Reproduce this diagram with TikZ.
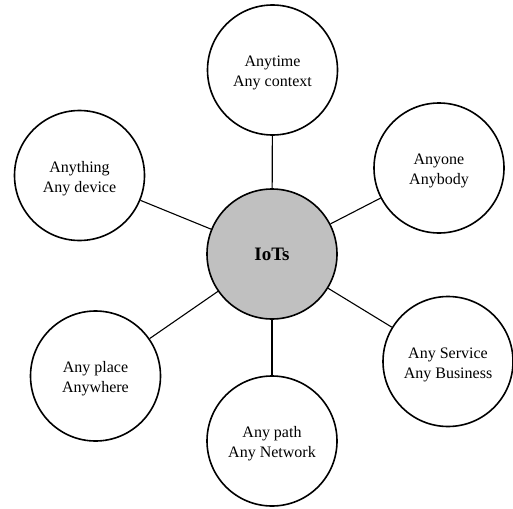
\documentclass[tikz,border=0pt]{standalone}
\usepackage{fontspec}
\setmainfont{Liberation Serif}
\begin{document}
\begin{tikzpicture}[x=1pt,y=-1pt,
  outer/.style={circle,draw,line width=1.6pt,minimum size=130pt,inner sep=0pt},
  txt/.style={align=center,inner sep=0pt,yshift=-3pt,font=\fontsize{16}{20}\selectfont},
  hub/.style={circle,draw,line width=1.6pt,fill={rgb,255:red,192;green,192;blue,192},minimum size=130pt,inner sep=0pt,font=\fontsize{19}{22}\selectfont\bfseries},
  link/.style={line width=1.1pt}]
\useasboundingbox (0,0) rectangle (513,508);
\node[hub] (c) at (272,254) {IoTs};
\node[outer] (t) at (272.5,70) {};
\node[outer] (tl) at (79.5,175.5) {};
\node[outer] (tr) at (439,168) {};
\node[outer] (bl) at (95.5,376) {};
\node[outer] (b) at (272,441) {};
\node[outer] (br) at (448,361.5) {};
\node[txt] (tT) at (t.center) {Anytime\\Any context};
\node[txt] (tlT) at (tl.center) {Anything\\Any device};
\node[txt] (trT) at (tr.center) {Anyone\\Anybody};
\node[txt] (blT) at (bl.center) {Any place\\Anywhere};
\node[txt] (bT) at (b.center) {Any path\\Any Network};
\node[txt] (brT) at (br.center) {Any Service\\Any Business};
\foreach \n in {t,tl,tr,bl,b,br} \draw[link] (c) -- (\n);
\end{tikzpicture}
\end{document}
